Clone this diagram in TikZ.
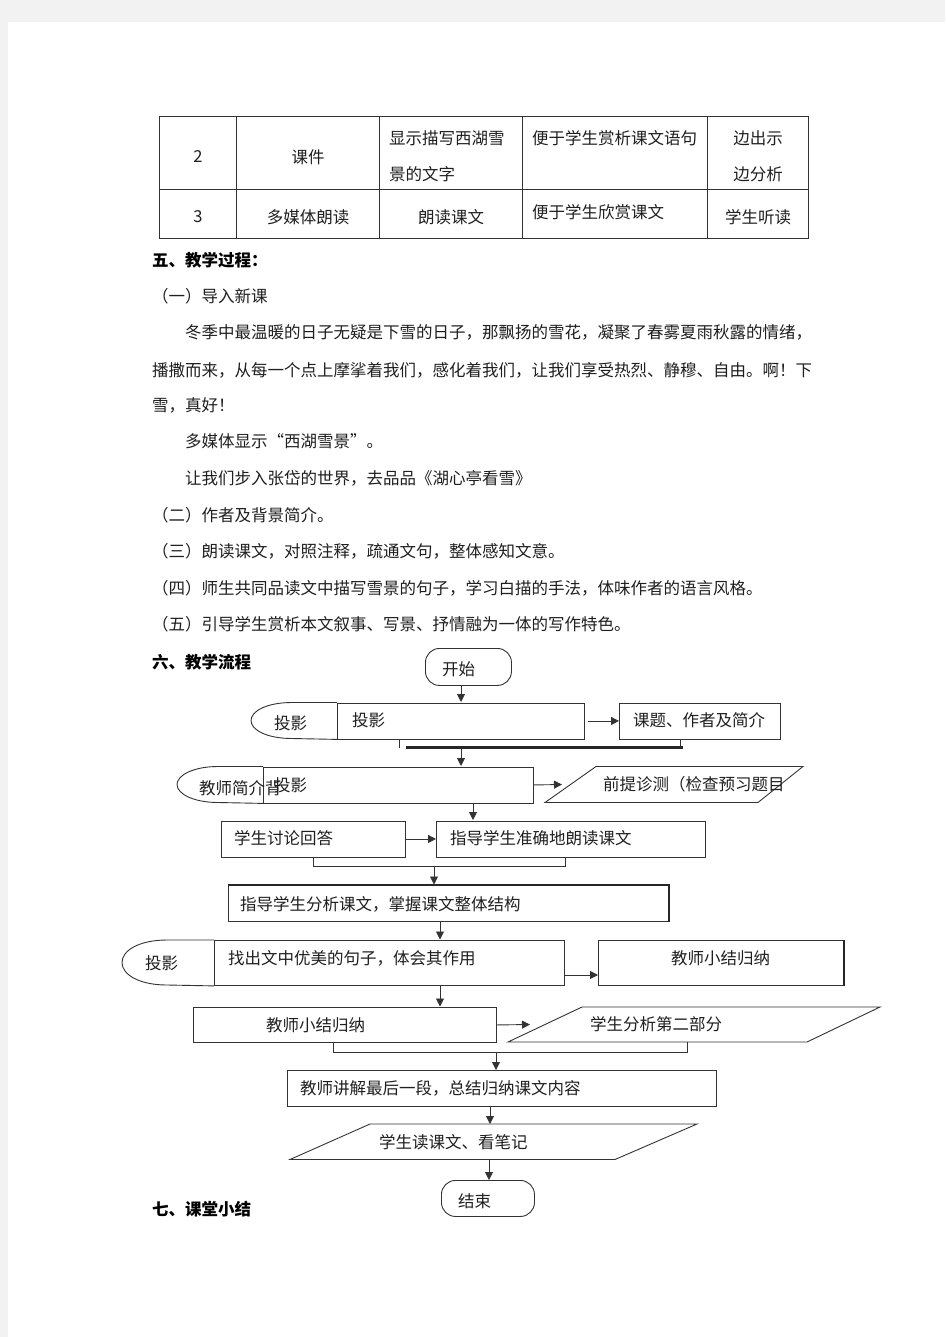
\documentclass[tikz,border=0pt]{standalone}
\usepackage{fontspec}
\newfontfamily\cjk{Noto Sans CJK SC}
\usetikzlibrary{arrows.meta,calc}
\begin{document}
\begin{tikzpicture}[x=1pt,y=-1pt,
  txt/.style={font=\cjk\fontsize{16.5}{20}\selectfont, inner sep=0pt, anchor=west, text=black!88},
  ctxt/.style={txt, anchor=center},
  hd/.style={txt, font=\cjk\bfseries\fontsize{16.5}{20}\selectfont, text=black},
  ln/.style={line width=0.9pt, draw=black!80},
  box/.style={ln, draw, inner sep=0pt, anchor=north west},
  arr/.style={ln, -{Triangle[length=8pt,width=8pt]}},
]
\fill[black!5] (0,0) rectangle (945,1337);
\fill[white] (8,22) rectangle (945,1337);
\useasboundingbox (0,0) rectangle (945,1337);

% ---------------- table ----------------
\draw[ln] (159,116) rectangle (808,238);
\draw[ln] (159,189) -- (808,189);
\foreach \x in {236,379,522,707} \draw[ln] (\x,116) -- (\x,238);
\node[ctxt] (t11) at (198,157) {2};
\node[ctxt] (t12) at (308,157) {课件};
\node[txt] (t13a) at (389,138) {显示描写西湖雪};
\node[txt] (t13b) at (389,174) {景的文字};
\node[txt] (t14) at (532,138) {便于学生赏析课文语句};
\node[ctxt] (t15a) at (758,138) {边出示};
\node[ctxt] (t15b) at (758,174) {边分析};
\node[ctxt] (t21) at (198,217) {3};
\node[ctxt] (t22) at (308,217) {多媒体朗读};
\node[ctxt] (t23) at (451,217) {朗读课文};
\node[txt] (t24) at (532,212) {便于学生欣赏课文};
\node[ctxt] (t25) at (758,217) {学生听读};

% ---------------- body text ----------------
\node[hd] (h5) at (152,260) {五、教学过程：};
\node[txt] (l1) at (152,296) {（一）导入新课};
\node[txt] (l2) at (185,332) {冬季中最温暖的日子无疑是下雪的日子，那飘扬的雪花，凝聚了春雾夏雨秋露的情绪，};
\node[txt] (l3) at (152,370) {播撒而来，从每一个点上摩挲着我们，感化着我们，让我们享受热烈、静穆、自由。啊！下};
\node[txt] (l4) at (152,405) {雪，真好！};
\node[txt] (l5) at (185,441) {多媒体显示“西湖雪景”。};
\node[txt] (l6) at (185,478) {让我们步入张岱的世界，去品品《湖心亭看雪》};
\node[txt] (l7) at (152,515) {（二）作者及背景简介。};
\node[txt] (l8) at (152,551) {（三）朗读课文，对照注释，疏通文句，整体感知文意。};
\node[txt] (l9) at (152,588) {（四）师生共同品读文中描写雪景的句子，学习白描的手法，体味作者的语言风格。};
\node[txt] (l10) at (152,624) {（五）引导学生赏析本文叙事、写景、抒情融为一体的写作特色。};
\node[hd] (h6) at (152,662) {六、教学流程};
\node[hd] (h7) at (152,1209) {七、课堂小结};

% ---------------- flowchart ----------------
% start
\node[box, minimum width=86, minimum height=37, rounded corners=14pt] (start) at (425,648) {};
\node[txt] (startt) at (442,669) {开始};
\draw[arr] (start.south -| 461,0) -- (461,702);

% row 1
\node[box, minimum width=247, minimum height=36] (p1) at (337,702.5) {};
\draw[ln] (p1.north west) -- (292,702.5) .. controls (267,702.5) and (251,711) .. (251,720.5)
  .. controls (251,730) and (267,738.5) .. (292,738.5) -- (p1.south west);
\node[txt] (d1t) at (274,723) {投影};
\node[txt] (p1t) at (352,720) {投影};
\node[box, minimum width=161, minimum height=36] (k1) at (619,702.5) {};
\node[txt] (k1t) at (633,720) {课题、作者及简介};
\draw[arr] ($(p1.east)+(3,0)$) -- (k1.west);
\coordinate (stubA) at (399,748);
\coordinate (barL) at (406,747.5);
\coordinate (barR) at (683,747.5);
\draw[ln] (p1.south -| stubA) -- (stubA);
\draw[ln] (k1.south -| 680,0) -- (680,747.5);
\draw[line width=2.3pt, draw=black!85] (barL) -- (barR);
\draw[arr] (461,748.5) -- (461,766);

% row 2
\node[box, minimum width=270, minimum height=36] (p2) at (263,766.5) {};
\draw[ln] (p2.north west) -- (218,766.5) .. controls (194,766.5) and (177,775) .. (177,784.5)
  .. controls (177,794) and (194,802.5) .. (218,802.5) -- (p2.south west);
\node[txt] (d2t) at (199,788) {教师简介背};
\node[txt] (p2t) at (274,785) {投影};
\coordinate (q1bl) at (545,802.5);
\coordinate (q1tl) at (596,766.5);
\coordinate (q1tr) at (803,766.5);
\coordinate (q1br) at (758,802.5);
\draw[ln] (q1bl) -- (q1tl) -- (q1tr) -- (q1br) -- cycle;
\node[txt] (q1t) at (603,784) {前提诊测（检查预习题目};
\draw[arr] (p2.east) -- (562,784.5);
\draw[arr] (p2.south -| 473,0) -- (473,820);

% row 3
\node[box, minimum width=184, minimum height=36] (s1) at (221,820.5) {};
\node[txt] (s1t) at (234,838) {学生讨论回答};
\node[box, minimum width=269, minimum height=36] (g1) at (436,820.5) {};
\node[txt] (g1t) at (450,838) {指导学生准确地朗读课文};
\draw[arr] (s1.east) -- (g1.west);
\draw[ln] (s1.south -| 313,0) -- (313,866) -- (565,866) -- (g1.south -| 565,0);
\draw[arr] (434,866) -- (434,884.5);

% row 4
\node[box, minimum width=440, minimum height=36] (g2) at (228,885) {};
\draw[line width=1.6pt, draw=black!85] (g2.north west) -- (g2.north east) -- (g2.south east);
\node[txt] (g2t) at (240,904) {指导学生分析课文，掌握课文整体结构};
\draw[arr] (g2.south -| 440,0) -- (440,939.5);

% row 5
\node[box, minimum width=350, minimum height=45] (p3) at (214,940) {};
\draw[ln] (p3.north west) -- (167,940) .. controls (140,940) and (122,950) .. (122,962.5)
  .. controls (122,975) and (140,985) .. (167,985) -- (p3.south west);
\node[txt] (d3t) at (145,963) {投影};
\node[txt] (p3t) at (228,958) {找出文中优美的句子，体会其作用};
\node[box, minimum width=245, minimum height=45] (t1) at (598,940) {};
\draw[line width=1.6pt, draw=black!85] (t1.north east) -- (t1.south east);
\node[txt] (t1t) at (671,958) {教师小结归纳};
\draw[arr] (p3.east |- 0,975) -- (t1.west |- 0,975);
\draw[arr] (p3.south -| 440,0) -- (440,1006.5);

% row 6
\node[box, minimum width=303, minimum height=35] (t2) at (193,1007) {};
\node[txt] (t2t) at (266,1025) {教师小结归纳};
\coordinate (q2bl) at (508,1042);
\coordinate (q2tl) at (582,1007);
\coordinate (q2tr) at (880,1007);
\coordinate (q2br) at (807,1042);
\draw[ln] (q2bl) -- (q2tl) -- (q2tr) -- (q2br) -- cycle;
\node[txt] (q2t) at (590,1024) {学生分析第二部分};
\draw[arr] (t2.east) -- (530,1024.5);
\draw[ln] (t2.south -| 333,0) -- (333,1052) -- (687,1052) -- (687,1042);
\draw[arr] (496,1052) -- (496,1070);

% row 7
\node[box, minimum width=429, minimum height=36] (e1) at (287,1070) {};
\node[txt] (e1t) at (300,1088) {教师讲解最后一段，总结归纳课文内容};
\draw[arr] (e1.south -| 490,0) -- (490,1124);
\coordinate (q3bl) at (290,1159.5);
\coordinate (q3tl) at (370,1124);
\coordinate (q3tr) at (697,1124);
\coordinate (q3br) at (615,1159.5);
\draw[ln] (q3bl) -- (q3tl) -- (q3tr) -- (q3br) -- cycle;
\node[txt] (q3t) at (379,1142) {学生读课文、看笔记};

% end
\node[box, minimum width=93, minimum height=36, rounded corners=14pt] (stop) at (441,1180) {};
\node[txt] (stopt) at (458,1201) {结束};
\draw[arr] (489,1159.5) -- (stop.north -| 489,0);
\end{tikzpicture}
\end{document}
